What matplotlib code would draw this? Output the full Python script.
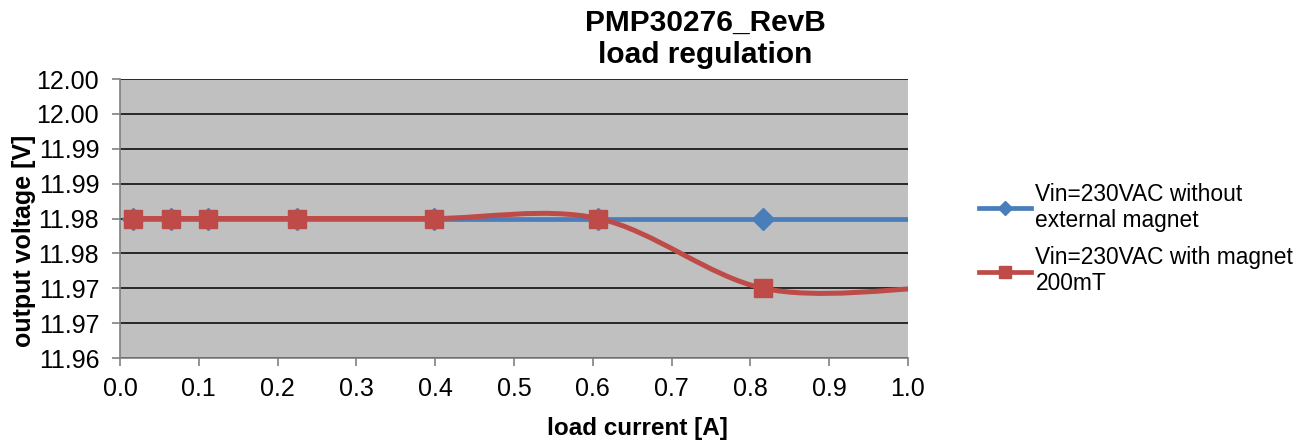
import numpy as np
import matplotlib.pyplot as plt
from matplotlib.path import Path
from matplotlib.patches import PathPatch
from matplotlib.lines import Line2D

plt.rcParams['font.family'] = ['Liberation Sans', 'DejaVu Sans']

# load current [A]
current = [0.016, 0.065, 0.112, 0.225, 0.399, 0.607, 0.816, 1.02]
# output voltage [V]
v_no_magnet = [11.98, 11.98, 11.98, 11.98, 11.98, 11.98, 11.98, 11.98]
v_magnet = [11.98, 11.98, 11.98, 11.98, 11.98, 11.98, 11.97, 11.97]

y_ticks = [11.96, 11.965, 11.97, 11.975, 11.98, 11.985, 11.99, 11.995, 12.00]
y_tick_labels = ['11.96', '11.97', '11.97', '11.98', '11.98', '11.99', '11.99', '12.00', '12.00']
x_ticks = [0.0, 0.1, 0.2, 0.3, 0.4, 0.5, 0.6, 0.7, 0.8, 0.9, 1.0]

labels = ['Vin=230VAC without\nexternal magnet', 'Vin=230VAC with magnet\n200mT']
blue = '#4A7EBB'
red = '#BE4B48'


def smooth_path(x, y):
    # excel style smoothed line: bezier segments, catmull-rom like control points
    x = np.asarray(x, float)
    y = np.asarray(y, float)
    n = len(x)
    verts = [(x[0], y[0])]
    codes = [Path.MOVETO]
    for i in range(n - 1):
        i0 = max(i - 1, 0)
        i3 = min(i + 2, n - 1)
        c1 = (x[i] + (x[i + 1] - x[i0]) / 6, y[i] + (y[i + 1] - y[i0]) / 6)
        c2 = (x[i + 1] - (x[i3] - x[i]) / 6, y[i + 1] - (y[i3] - y[i]) / 6)
        verts += [c1, c2, (x[i + 1], y[i + 1])]
        codes += [Path.CURVE4] * 3
    return Path(verts, codes)


fig = plt.figure(figsize=(13.12, 4.45), dpi=100)
ax = fig.add_axes([120 / 1312, 1 - 358 / 445, 788 / 1312, 279 / 445])
ax.set_facecolor('#C0C0C0')

ax.plot(current, v_no_magnet, color=blue, lw=3.4, marker='D', ms=11, zorder=3)
ax.add_patch(PathPatch(smooth_path(current, v_magnet), fill=False, edgecolor=red,
                       lw=3.6, capstyle='round', zorder=4))
ax.plot(current, v_magnet, linestyle='none', color=red, marker='s', ms=13.5, zorder=5)

ax.set_xlim(0, 1.0)
ax.set_ylim(11.96, 12.00)
ax.set_xticks(x_ticks)
ax.set_xticklabels(['%.1f' % t for t in x_ticks])
ax.set_yticks(y_ticks)
ax.set_yticklabels(y_tick_labels)
ax.tick_params(labelsize=18, direction='out', length=6, color='#808080', width=1.2)
ax.tick_params(axis='y', pad=9)
ax.tick_params(axis='x', pad=8)
ax.yaxis.grid(True, color='black', lw=1.1)
ax.set_axisbelow(True)
for s in ['top', 'right']:
    ax.spines[s].set_visible(False)
for s in ['left', 'bottom']:
    ax.spines[s].set_color('#808080')
    ax.spines[s].set_linewidth(1.2)

fig.text(637 / 1312, 1 - 428 / 445, 'load current [A]', ha='center', va='center',
         fontsize=17.5, fontweight='bold')
fig.text(24 / 1312, 1 - 241 / 445, 'output voltage [V]', ha='center', va='center',
         rotation=90, fontsize=18, fontweight='bold')

fig.text(705 / 1312, 1 - 39 / 445, 'PMP30276_RevB\nload regulation', ha='center', va='center',
         fontsize=21.5, fontweight='bold', linespacing=1.2)

handles = [Line2D([], [], color=blue, lw=3.4, marker='D', ms=7),
           Line2D([], [], color=red, lw=3.4, marker='s', ms=8)]
fig.legend(handles, labels, loc='center left', bbox_to_anchor=(958 / 1312, 1 - 239 / 445),
           frameon=False, fontsize=16.4, handlelength=2.3, labelspacing=0.6, handletextpad=0.2)

fig.savefig('out.png', dpi=100)
